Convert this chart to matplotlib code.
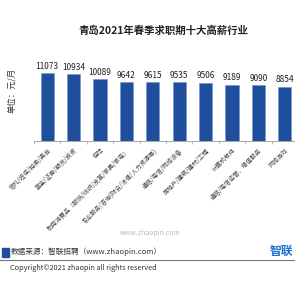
import matplotlib
matplotlib.use("Agg")
import matplotlib.pyplot as plt
from matplotlib.patches import Rectangle
import numpy as np

plt.rcParams['font.family'] = ['Noto Sans CJK SC', 'DejaVu Sans']

industries = ["信托/担保/拍卖/典当", "基金/证券/期货/投资", "保险",
              "耐用消费品（服饰/纺织/皮革/家具/家电）",
              "专业服务/咨询(财会/法律/人力资源等)",
              "通信/电信/网络设备", "房地产/建筑/建材/工程", "计算机软件",
              "通信/电信运营、增值服务", "网络游戏"]
salary = [11073, 10934, 10089, 9642, 9615, 9535, 9506, 9189, 9090, 8854]

fig = plt.figure(figsize=(2.95, 2.95), dpi=100)
ax = fig.add_axes([0.115, 0.522, 0.895, 0.275])

x = np.arange(len(industries))
bars = ax.bar(x, salary, width=0.5, color="#1f4e9c", edgecolor="#6f93cc", linewidth=0.4)
for xi, v in zip(x, salary):
    ax.text(xi, v + 350, str(v), ha="center", va="bottom", fontsize=6, color="#222222")

ax.set_xlim(-0.5, 9.5)
ax.set_ylim(0, 13200)
ax.set_yticks([])
for s in ["top", "right", "left"]:
    ax.spines[s].set_visible(False)
ax.spines["bottom"].set_color("#999999")
ax.spines["bottom"].set_linewidth(0.6)
ax.set_xticks(x)
ax.set_xticklabels(industries, rotation=45, ha="right", rotation_mode="anchor",
                   fontsize=4.4, color="#444444")
ax.tick_params(axis="x", length=0, pad=4)
ax.set_xticks(np.arange(-0.5, 10, 1), minor=True)
ax.tick_params(axis="x", which="minor", length=2.5, color="#999999", width=0.5)

fig.text(0.04, 0.695, "单位：元/月", rotation=90, ha="center", va="center",
         fontsize=6, color="#333333")
fig.text(0.555, 0.895, "青岛2021年春季求职期十大高薪行业", ha="center", va="center",
         fontsize=7.5, fontweight="bold", color="#222222")

fig.text(0.51, 0.21, "www.zhaopin.com", ha="center", va="center", fontsize=5, color="#bbbbbb")

fig.patches.append(Rectangle((0.007, 0.13), 0.022, 0.03, transform=fig.transFigure,
                             color="#1f4e9c", figure=fig))
fig.text(0.035, 0.148, "数据来源：智联招聘（www.zhaopin.com）", ha="left", va="center",
         fontsize=5.5, color="#333333")
fig.text(0.995, 0.148, "智联", ha="right", va="center", fontsize=8.5,
         fontweight="bold", color="#1a6fd6")
fig.add_artist(plt.Line2D([0, 1], [0.117, 0.117], transform=fig.transFigure,
                          color="#777777", linewidth=0.8))
fig.text(0.035, 0.093, "Copyright©2021 zhaopin all rights reserved", ha="left",
         va="center", fontsize=5.3, color="#333333")

fig.savefig("out.png", dpi=100, facecolor="white")
